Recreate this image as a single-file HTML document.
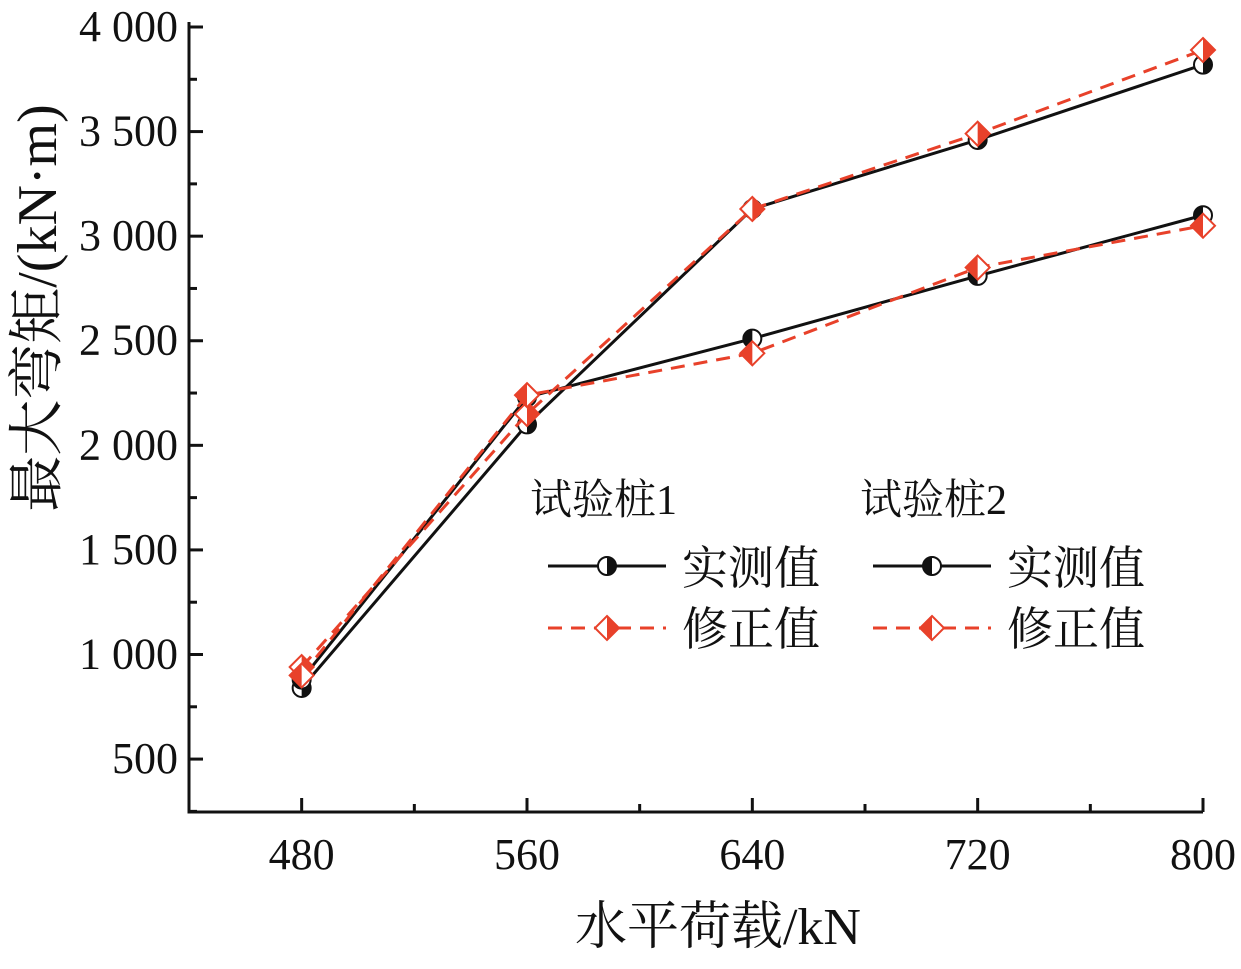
<!DOCTYPE html>
<html><head><meta charset="utf-8"><style>
body{margin:0;background:#fff;}
svg text{font-family:"Liberation Serif","Noto Serif CJK SC",serif;fill:#111;}
</style></head><body>
<svg id="chart" width="1241" height="964"></svg>
<script>
const categories=[480,560,640,720,800];
const pile1Measured=[840,2100,3130,3460,3820];
const pile1Corrected=[940,2150,3130,3490,3890];
const pile2Measured=[880,2230,2510,2810,3100];
const pile2Corrected=[900,2240,2440,2850,3050];
const yTicks=[500,1000,1500,2000,2500,3000,3500,4000];
const yTickLabels=["500","1 000","1 500","2 000","2 500","3 000","3 500","4 000"];
const NS="http://www.w3.org/2000/svg";
const svg=document.getElementById('chart');
const L=189,R=1203,T=27,B=812;
const xMin=440,xMax=800,yMin=247,yMax=4000;
const X=v=>L+(v-xMin)/(xMax-xMin)*(R-L);
const Y=v=>B-(v-yMin)/(yMax-yMin)*(B-T);
function mk(tag,a,p){const e=document.createElementNS(NS,tag);for(const k in a)e.setAttribute(k,a[k]);(p||svg).appendChild(e);return e;}
let ax=mk('path',{d:`M${L},${T-5}V${B}H${R}`,stroke:'#111','stroke-width':3,fill:'none'});


yTicks.forEach((v,i)=>{
 let t=mk('line',{x1:L,x2:L+14,y1:Y(v),y2:Y(v),stroke:'#111','stroke-width':3});
 
 
 let m=mk('line',{x1:L,x2:L+8,y1:Y(v-250),y2:Y(v-250),stroke:'#111','stroke-width':3});
 
 
 let tx=mk('text',{x:L-11,y:Y(v)+14,'text-anchor':'end','font-size':44});
 tx.textContent=yTickLabels[i];
 
 
});
categories.forEach((v)=>{
 let t=mk('line',{x1:X(v),x2:X(v),y1:B,y2:B-14,stroke:'#111','stroke-width':3});
 
 
 if(v<800){let m=mk('line',{x1:X(v+40),x2:X(v+40),y1:B,y2:B-8,stroke:'#111','stroke-width':3});
 
 }
 let tx=mk('text',{x:X(v),y:B+57,'text-anchor':'middle','font-size':44});
 tx.textContent=v;
 
 
});
let xt=mk('text',{x:718,y:944,'text-anchor':'middle','font-size':52});
xt.textContent='水平荷载/kN';


let yt=mk('text',{x:0,y:0,'text-anchor':'middle','font-size':56,transform:'translate(56,308) rotate(-90)'});
yt.textContent='最大弯矩/(kN·m)';


function circleMarker(g,x,y,flip){
 mk('circle',{cx:x,cy:y,r:9,fill:'#fff',stroke:'#111','stroke-width':2},g);
 const s=flip?0:1;
 mk('path',{d:`M${x},${y-9}A9,9 0 0,${s} ${x},${y+9}Z`,fill:'#111'},g);
}
function diamondMarker(g,x,y,flip){
 mk('path',{d:`M${x},${y-12}L${x+12},${y}L${x},${y+12}L${x-12},${y}Z`,fill:'#fff',stroke:'#e8412a','stroke-width':2},g);
 const d=flip?-12:12;
 mk('path',{d:`M${x},${y-12}L${x+d},${y}L${x},${y+12}Z`,fill:'#e8412a'},g);
}
function series(vals,name,color,dash,marker,flip){
 const g=mk('g',{});
 
 
 mk('polyline',{points:vals.map((v,i)=>X(categories[i])+','+Y(v)).join(' '),fill:'none',stroke:color,'stroke-width':3,'stroke-dasharray':dash},g);
 vals.forEach((v,i)=>marker(g,X(categories[i]),Y(v),flip));
}
series(pile1Measured,'pile1-measured-line','#111','none',circleMarker,false);
series(pile2Measured,'pile2-measured-line','#111','none',circleMarker,true);
series(pile1Corrected,'pile1-corrected-line','#e8412a','14,9',diamondMarker,false);
series(pile2Corrected,'pile2-corrected-line','#e8412a','14,9',diamondMarker,true);
const lg=mk('g',{});


function txt(x,y,s,n,fs){let t=mk('text',{x:x,y:y,'font-size':fs},lg);t.textContent=s;}
txt(530,514,'试验桩1','legend-group-1',42);
txt(860,514,'试验桩2','legend-group-2',42);
[[548,false],[873,true]].forEach(([x0,f])=>{
 mk('line',{x1:x0,x2:x0+118,y1:566,y2:566,stroke:'#111','stroke-width':3},lg);
 circleMarker(lg,x0+59,566,f);
 mk('line',{x1:x0,x2:x0+118,y1:628,y2:628,stroke:'#e8412a','stroke-width':3,'stroke-dasharray':'14,9'},lg);
 diamondMarker(lg,x0+59,628,f);
 txt(x0+134,584,'实测值','legend-entry-measured',46);
 txt(x0+134,645,'修正值','legend-entry-corrected',46);
});
</script>
</body></html>
